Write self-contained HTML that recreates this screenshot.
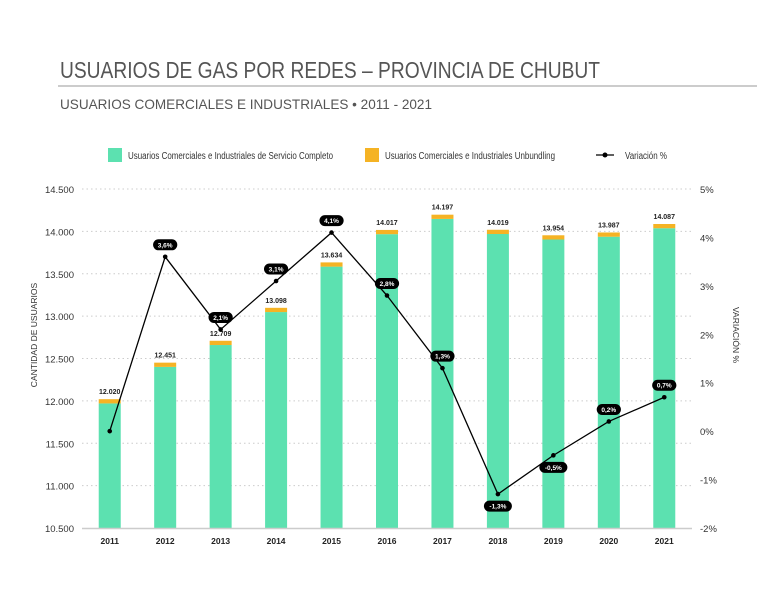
<!DOCTYPE html>
<html><head><meta charset="utf-8"><style>
body{margin:0;background:#fff;width:757px;height:595px;overflow:hidden;font-family:"Liberation Sans",sans-serif}
svg text{font-family:"Liberation Sans",sans-serif}
</style></head><body>
<svg width="757" height="595">
<text x="60" y="78" font-size="23" fill="#555" textLength="540" lengthAdjust="spacingAndGlyphs">USUARIOS DE GAS POR REDES – PROVINCIA DE CHUBUT</text>
<line x1="58" y1="86" x2="757" y2="86" stroke="#999" stroke-width="1"/>
<text x="60" y="109" font-size="14" fill="#555" textLength="372" lengthAdjust="spacingAndGlyphs">USUARIOS COMERCIALES E INDUSTRIALES • 2011 - 2021</text>
<g>
<rect x="108" y="148" width="14" height="14" fill="#5ce1b0"/>
<text x="128" y="159" font-size="10" fill="#333" textLength="205" lengthAdjust="spacingAndGlyphs">Usuarios Comerciales e Industriales de Servicio Completo</text>
<rect x="365" y="148" width="14" height="14" fill="#f5b324"/>
<text x="385" y="159" font-size="10" fill="#333" textLength="170" lengthAdjust="spacingAndGlyphs">Usuarios Comerciales e Industriales Unbundling</text>
<line x1="596" y1="155" x2="614" y2="155" stroke="#000" stroke-width="1.3"/>
<circle cx="605" cy="155" r="2.5" fill="#000"/>
<text x="625" y="159" font-size="10" fill="#333" textLength="42" lengthAdjust="spacingAndGlyphs">Variación %</text>
</g>
<text transform="translate(37,335) rotate(-90)" text-anchor="middle" font-size="8.5" fill="#333">CANTIDAD DE USUARIOS</text>
<text transform="translate(733,335) rotate(90)" text-anchor="middle" font-size="8.5" fill="#333">VARIACIÓN %</text>
<g id="plot"></g>
</svg>
<script>
const years=["2011","2012","2013","2014","2015","2016","2017","2018","2019","2020","2021"];
const totals=[12020,12451,12709,13098,13634,14017,14197,14019,13954,13987,14087];
const unbundling=[50,50,50,50,50,50,50,50,50,50,50];
const variation=[0,3.6,2.1,3.1,4.1,2.8,1.3,-1.3,-0.5,0.2,0.7];
const leftTicks=[10500,11000,11500,12000,12500,13000,13500,14000,14500];
const rightTicks=[-2,-1,0,1,2,3,4,5];
const NS="http://www.w3.org/2000/svg";
const g=document.getElementById('plot');
const x0=82,x1=692,yTop=189,yBot=528;
const band=(x1-x0)/years.length;
const xc=i=>x0+band*(i+0.5);
const yL=v=>yBot-(v-10500)/(14500-10500)*(yBot-yTop);
const yR=v=>yBot-(v+2)/7*(yBot-yTop);
function mk(t,a){const e=document.createElementNS(NS,t);for(const k in a)e.setAttribute(k,a[k]);g.appendChild(e);return e;}
const fmt=v=>v.toLocaleString('de-DE');
leftTicks.forEach(v=>{
 if(v>10500){const l=mk('line',{x1:x0,x2:x1,y1:yL(v),y2:yL(v),stroke:'#ccc','stroke-dasharray':'1.5,3'});
 
 }
 const t=mk('text',{x:74,y:yL(v)+4,'text-anchor':'end','font-size':9.5,fill:'#333'});t.textContent=fmt(v);
 
 
});
rightTicks.forEach(v=>{
 const t=mk('text',{x:700,y:yR(v)+4,'font-size':9.5,fill:'#333'});t.textContent=v+'%';
 
 
});
const bw=22;
years.forEach((y,i)=>{
 const c=xc(i);
 const g1=mk('rect',{x:c-bw/2,y:yL(totals[i]-unbundling[i]),width:bw,height:yBot-yL(totals[i]-unbundling[i]),fill:'#5ce1b0'});
 
 
 const o=mk('rect',{x:c-bw/2,y:yL(totals[i]),width:bw,height:yL(totals[i]-unbundling[i])-yL(totals[i]),fill:'#f5b324'});
 
 
 const t=mk('text',{x:c,y:yL(totals[i])-5,'text-anchor':'middle','font-size':7,'font-weight':'bold',fill:'#222'});t.textContent=fmt(totals[i]);
 
 
 const xl=mk('text',{x:c,y:544,'text-anchor':'middle','font-size':8.5,'font-weight':'bold',fill:'#222'});xl.textContent=y;
 
 
});
const ax=mk('line',{x1:x0,x2:x1,y1:yBot+0.5,y2:yBot+0.5,stroke:'#ccc','stroke-width':1.5});


const pl=mk('polyline',{points:variation.map((v,i)=>xc(i)+','+yR(v)).join(' '),fill:'none',stroke:'#000','stroke-width':1.3});


variation.forEach((v,i)=>{
 const c=xc(i),y=yR(v);
 const d=mk('circle',{cx:c,cy:y,r:2.3,fill:'#000'});
 
 
 if(i===0)return;
 const below=v<0;
 const ly=below?y+12:y-12;
 const txt=String(v).replace('.',',')+'%';
 const w=txt.length*3.8+9;
 const p=mk('rect',{x:c-w/2,y:ly-5.5,width:w,height:11,rx:5.5,fill:'#000'});
 
 
 const t=mk('text',{x:c,y:ly+2.5,'text-anchor':'middle','font-size':6.5,'font-weight':'bold',fill:'#fff'});t.textContent=txt;
 
 
});
</script>
</body></html>
